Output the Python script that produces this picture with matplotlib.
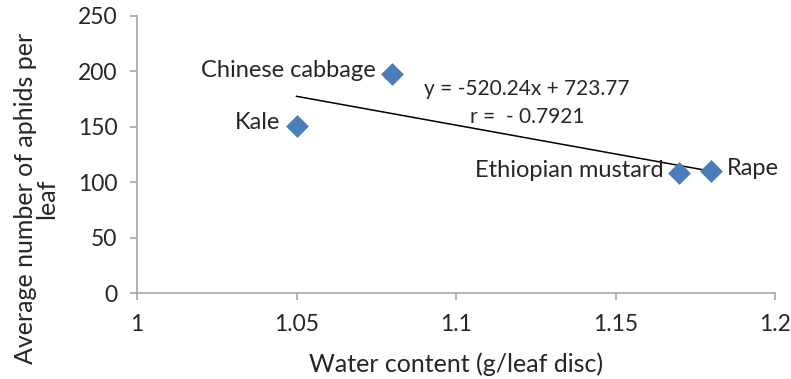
import matplotlib
matplotlib.use("Agg")
import matplotlib.pyplot as plt
import numpy as np

# water content vs. aphid counts per crop
crops = ["Kale", "Chinese cabbage", "Ethiopian mustard", "Rape"]
water = [1.05, 1.08, 1.17, 1.18]
aphids = [151, 198, 108, 110]

slope = -520.24
intercept = 723.77
r_value = -0.7921

x_ticks = [1, 1.05, 1.1, 1.15, 1.2]
x_tick_labels = ["1", "1.05", "1.1", "1.15", "1.2"]
y_ticks = [0, 50, 100, 150, 200, 250]

plt.rcParams['font.family'] = ['Lato', 'DejaVu Sans']
txt = '#262626'

fig = plt.figure(figsize=(7.91, 3.79), dpi=100)
ax = fig.add_axes([0.1732, 0.2269, 0.8066, 0.7309])

ax.scatter(water, aphids, marker='D', s=135, color='#4a7ebb', zorder=3, linewidths=0)

# linear trendline over the range of the data
tx = np.array([min(water), max(water)])
ax.plot(tx, slope * tx + intercept, color='black', lw=1.1, zorder=2)

# point labels: all left of the marker except Rape
for name, x, y in zip(crops, water, aphids):
    if name == "Rape":
        ax.annotate(name, (x, y), xytext=(11.5, 2), textcoords='offset points',
                    ha='left', va='center', fontsize=17, color=txt)
    else:
        ax.annotate(name, (x, y), xytext=(-11.5, 2), textcoords='offset points',
                    ha='right', va='center', fontsize=17, color=txt)

ax.text(1.1223, 184.4, "y = -520.24x + 723.77", fontsize=15, ha='center', va='center', color=txt)
ax.text(1.1223, 158.8, "r =  - %.4f" % abs(r_value), fontsize=15, ha='center', va='center', color=txt)

ax.set_xlim(1, 1.2)
ax.set_ylim(0, 250)
ax.set_xticks(x_ticks)
ax.set_xticklabels(x_tick_labels)
ax.set_yticks(y_ticks)

for s in ["top", "right"]:
    ax.spines[s].set_visible(False)
for s in ["left", "bottom"]:
    ax.spines[s].set_color('#a6a6a6')
    ax.spines[s].set_linewidth(1.2)
ax.tick_params(axis='both', colors='#a6a6a6', labelcolor=txt, labelsize=16.5, length=5, width=1.2)
ax.tick_params(axis='x', pad=10)
ax.tick_params(axis='y', pad=9)

ax.set_xlabel("Water content (g/leaf disc)", fontsize=18, color=txt, labelpad=13)
ax.set_ylabel("Average number of aphids per\nleaf", fontsize=18, color=txt, linespacing=0.9)
ax.yaxis.set_label_coords(-0.123, 0.34)

fig.savefig("out.png", dpi=100)
